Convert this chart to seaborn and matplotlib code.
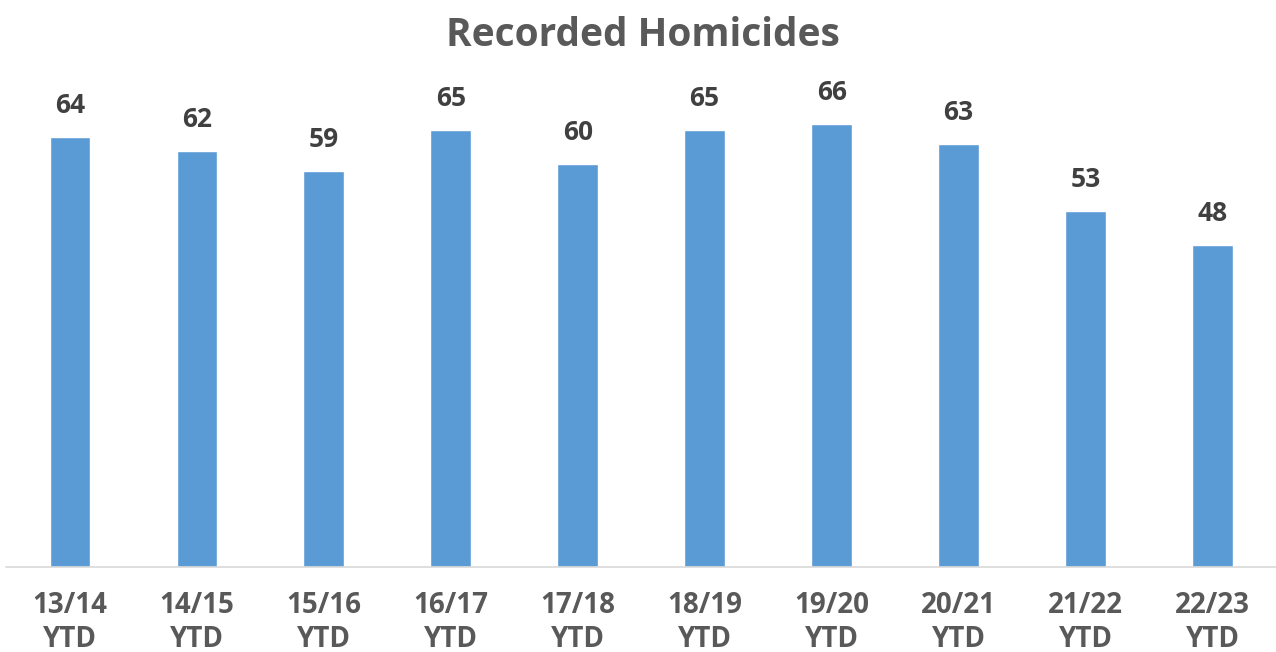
import matplotlib.pyplot as plt
import seaborn as sns
import pandas as pd

years = ["13/14", "14/15", "15/16", "16/17", "17/18", "18/19", "19/20", "20/21", "21/22", "22/23"]
homicides = [64, 62, 59, 65, 60, 65, 66, 63, 53, 48]
labels = [y + "\nYTD" for y in years]

df = pd.DataFrame({"period": labels, "count": homicides})

sns.set_style("white")
plt.rcParams["font.family"] = ["Open Sans", "DejaVu Sans"]

fig = plt.figure(figsize=(12.76, 6.52), dpi=100)
ax = fig.add_axes([0.005, 0.1304, 0.995, 0.721])

sns.barplot(data=df, x="period", y="count", color="#5B9BD5", width=0.32,
            saturation=1, ax=ax)

for i, v in enumerate(homicides):
    ax.annotate(str(v), (i, v), xytext=(0, 13), textcoords="offset points",
                ha="center", va="bottom", fontsize=19, fontweight="bold", color="#404040")

ax.set_xlim(-0.5, 9.5)
ax.set_ylim(0, 70)
ax.set_xlabel("")
ax.set_ylabel("")
ax.set_yticks([])
ax.tick_params(axis="x", length=0, pad=17, labelsize=20, labelcolor="#595959")
for t in ax.get_xticklabels():
    t.set_fontweight("bold")
    t.set_linespacing(1.25)

for s in ["top", "left", "right"]:
    ax.spines[s].set_visible(False)
ax.spines["bottom"].set_color("#D9D9D9")
ax.spines["bottom"].set_linewidth(1.2)

fig.text(0.504, 0.945, "Recorded Homicides", ha="center", va="center",
         fontsize=28, fontweight="bold", color="#595959")

fig.savefig("out.png", dpi=100, facecolor="white")
